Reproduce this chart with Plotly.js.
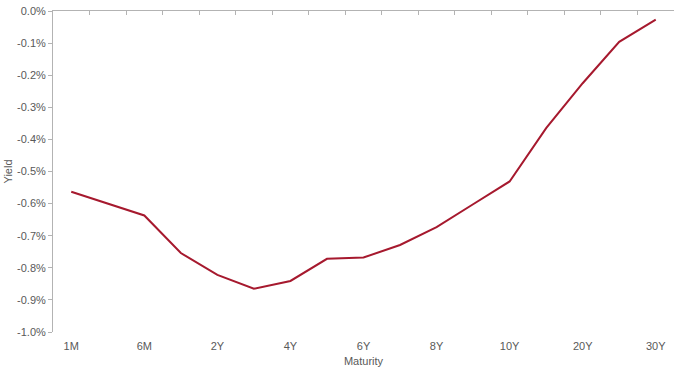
<!DOCTYPE html>
<html>
<head>
<meta charset="utf-8">
<script src="https://cdn.plot.ly/plotly-3.0.1.min.js"></script>
<style>html,body{margin:0;padding:0;background:#fff;}#chart{width:680px;height:369px;}</style>
</head>
<body>
<div id="chart"></div>
<script>
const maturities = ['1M','3M','6M','1Y','2Y','3Y','4Y','5Y','6Y','7Y','8Y','9Y','10Y','15Y','20Y','25Y','30Y'];
const yields = [-0.563,-0.600,-0.637,-0.754,-0.822,-0.865,-0.841,-0.772,-0.768,-0.729,-0.673,-0.602,-0.531,-0.365,-0.225,-0.096,-0.027];
const labeledTicks = ['1M','6M','2Y','4Y','6Y','8Y','10Y','20Y','30Y'];
const yTicks = [0,-0.1,-0.2,-0.3,-0.4,-0.5,-0.6,-0.7,-0.8,-0.9,-1.0];
const yTickText = yTicks.map(v => v.toFixed(1) + '%');

const txt = '#595959';
const axisCol = '#b3b3b3';
const fnt = {family:'Liberation Sans, Arial, sans-serif', size:11, color:txt};

const traces = [
  {x: maturities, y: yields, type:'scatter', mode:'lines', line:{color:'#A6192E', width:2}, hoverinfo:'skip', xaxis:'x', yaxis:'y'},
  {x: maturities, y: yields, type:'scatter', mode:'lines', line:{color:'rgba(0,0,0,0)', width:0}, hoverinfo:'skip', xaxis:'x2', yaxis:'y', showlegend:false}
];

const layout = {
  width:680, height:369,
  margin:{l:53, r:6, t:11, b:37},
  paper_bgcolor:'#fff', plot_bgcolor:'#fff',
  showlegend:false,
  font:fnt,
  xaxis:{
    type:'category', categoryorder:'array', categoryarray:maturities,
    range:[-0.5, maturities.length-0.5],
    tickmode:'array', tickvals:labeledTicks, ticktext:labeledTicks,
    showline:false, ticks:'', showgrid:false, zeroline:false,
    tickfont:fnt, ticklabelstandoff:6,
    title:{text:'Maturity', font:fnt, standoff:6}
  },
  xaxis2:{
    type:'category', categoryorder:'array', categoryarray:maturities,
    range:[-0.5, maturities.length-0.5],
    overlaying:'x', side:'top', anchor:'y',
    showline:true, linecolor:axisCol, linewidth:1,
    ticks:'inside', tickson:'boundaries', ticklen:4, tickcolor:axisCol,
    showticklabels:false, showgrid:false, zeroline:false
  },
  yaxis:{
    range:[-1.0, 0], tickmode:'array', tickvals:yTicks, ticktext:yTickText,
    showline:true, linecolor:axisCol, linewidth:1,
    ticks:'outside', ticklen:4, tickcolor:axisCol,
    showgrid:false, zeroline:false,
    tickfont:fnt,
    title:{text:'Yield', font:fnt, standoff:2}
  }
};

Plotly.newPlot('chart', traces, layout, {displayModeBar:false, staticPlot:true});
</script>
</body>
</html>
